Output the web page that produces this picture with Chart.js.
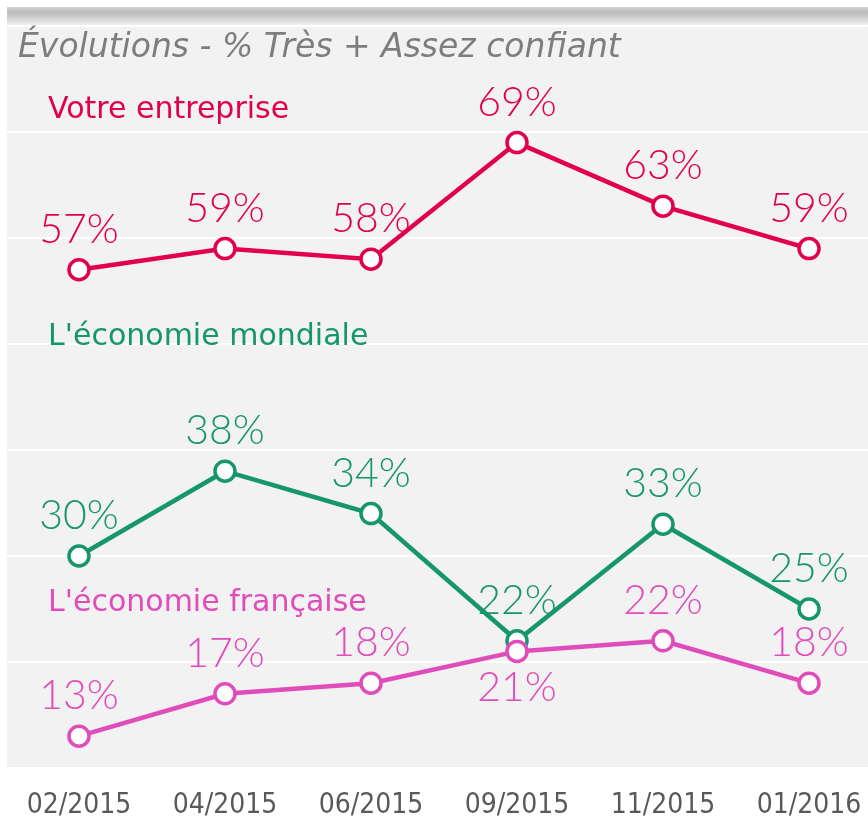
<!DOCTYPE html>
<html>
<head>
<meta charset="utf-8">
<script src="https://cdn.jsdelivr.net/npm/chart.js@4.4.0/dist/chart.umd.min.js"></script>
<style>
    html, body { margin: 0; padding: 0; background: #fff; overflow: hidden; }
    canvas { display: block; }
</style>
</head>
<body>
<canvas id="chart" width="868" height="822"></canvas>
<script>
// data
const periods = ["02/2015", "04/2015", "06/2015", "09/2015", "11/2015", "01/2016"]
const entreprise = [57, 59, 58, 69, 63, 59]
const mondiale = [30, 38, 34, 22, 33, 25]
const francaise = [13, 17, 18, 21, 22, 18]
const gridValues = [10, 20, 30, 40, 50, 60, 70, 80]

const RED = "#e2004c"
const GREEN = "#16966c"
const PINK = "#e04cb9"

const toPoints = (values) => values.map((v, i) => ({ x: i, y: v }))

const lineStyle = (color) => ({
    borderColor: color,
    backgroundColor: color,
    borderWidth: 4.5,
    pointRadius: 10,
    pointBorderWidth: 3.5,
    pointBackgroundColor: "#ffffff",
    pointBorderColor: color,
    tension: 0,
})

// background band, title, series names and value labels
const decorations = {
    id: "decorations",
    beforeDraw(chart) {
        const { ctx, chartArea: a, scales } = chart
        ctx.save()
        ctx.fillStyle = "#f2f2f2"
        ctx.fillRect(a.left, a.top, a.right - a.left, a.bottom - a.top)
        const bandBottom = scales.y.getPixelForValue(80) - 1
        const g = ctx.createLinearGradient(0, a.top, 0, bandBottom)
        g.addColorStop(0, "#d4d4d4")
        g.addColorStop(0.3, "#bababa")
        g.addColorStop(1, "#efefef")
        ctx.fillStyle = g
        ctx.fillRect(a.left, a.top, a.right - a.left, bandBottom - a.top)
        ctx.restore()
    },
    afterDatasetsDraw(chart) {
        const { ctx, chartArea: a } = chart
        ctx.save()

        // value labels
        ctx.font = "300 41px Lato"
        ctx.textAlign = "center"
        ctx.textBaseline = "middle"
        chart.data.datasets.forEach((ds, di) => {
            const meta = chart.getDatasetMeta(di)
            ctx.fillStyle = ds.borderColor
            meta.data.forEach((pt, i) => {
                const below = (ds.labelBelow || []).includes(i)
                ctx.fillText(ds.data[i].y + "%", pt.x, pt.y + (below ? 36 : -40))
            })
        })

        // title
        ctx.textAlign = "left"
        ctx.textBaseline = "alphabetic"
        ctx.fillStyle = "#7d7d7d"
        ctx.font = "italic 33px 'DejaVu Sans'"
        ctx.fillText("Évolutions - % Très + Assez confiant", a.left + 11, 57)

        // series names
        ctx.textBaseline = "middle"
        ctx.font = "30px 'DejaVu Sans'"
        const names = [
            ["Votre entreprise", RED, 110],
            ["L'économie mondiale", GREEN, 337],
            ["L'économie française", PINK, 603],
        ]
        names.forEach(([text, color, y]) => {
            ctx.fillStyle = color
            ctx.fillText(text, a.left + 41, y)
        })
        ctx.restore()
    },
}

new Chart(document.getElementById("chart"), {
    type: "line",
    data: {
        datasets: [
            { label: "Votre entreprise", data: toPoints(entreprise), order: 0, ...lineStyle(RED) },
            { label: "L'économie mondiale", data: toPoints(mondiale), order: 2, ...lineStyle(GREEN) },
            { label: "L'économie française", data: toPoints(francaise), order: 1, labelBelow: [3], ...lineStyle(PINK) },
        ],
    },
    options: {
        responsive: false,
        animation: false,
        devicePixelRatio: 1,
        layout: {
            autoPadding: false,
            padding: { left: 7, top: 7, right: 0, bottom: 0 },
        },
        plugins: {
            legend: { display: false },
            tooltip: { enabled: false },
        },
        scales: {
            x: {
                type: "linear",
                min: -0.493,
                max: 5.404,
                afterBuildTicks: (scale) => {
                    scale.ticks = periods.map((_, i) => ({ value: i }))
                },
                afterFit: (scale) => {
                    scale.paddingLeft = 0
                    scale.paddingRight = 0
                    scale.height = 54
                },
                grid: { display: false, drawTicks: false },
                border: { display: false },
                ticks: {
                    autoSkip: false,
                    maxRotation: 0,
                    padding: 21,
                    color: "#595959",
                    font: { family: "'DejaVu Sans Condensed'", size: 28 },
                    callback: (value) => periods[value],
                },
            },
            y: {
                min: 10,
                max: 81.79,
                afterBuildTicks: (scale) => {
                    scale.ticks = gridValues.map((v) => ({ value: v }))
                },
                afterFit: (scale) => {
                    scale.width = 0
                },
                grid: { color: "#ffffff", lineWidth: 2, drawTicks: false },
                border: { display: false },
                ticks: { display: false },
            },
        },
    },
    plugins: [decorations],
})
</script>
</body>
</html>
